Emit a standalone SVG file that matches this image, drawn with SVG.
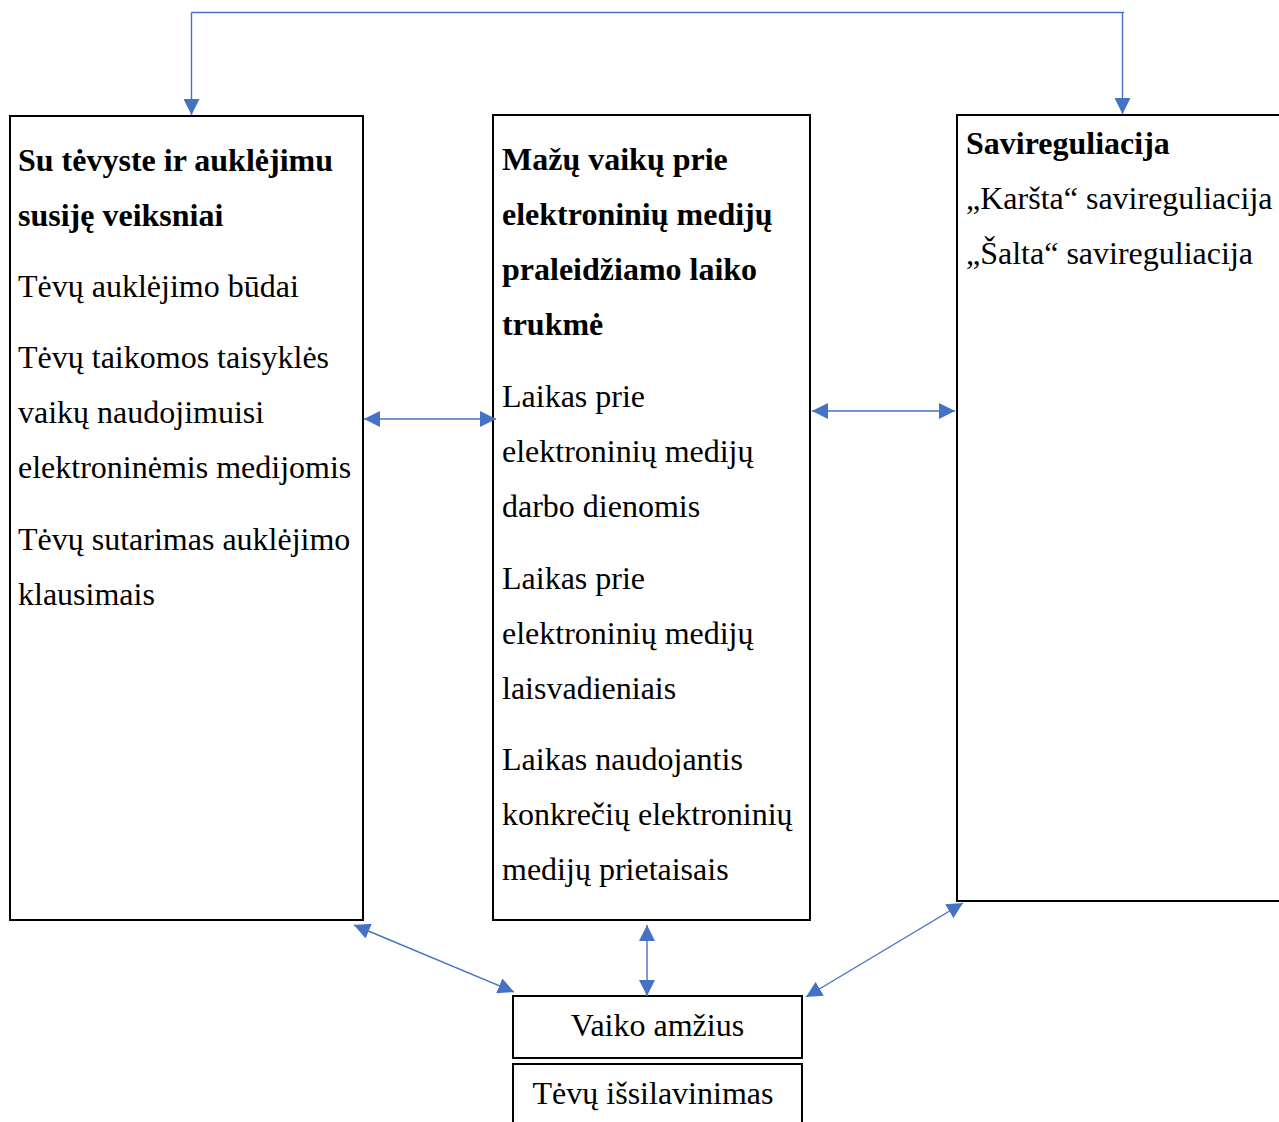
<svg xmlns="http://www.w3.org/2000/svg" width="1279" height="1122" viewBox="0 0 1279 1122">
<style>
.box{fill:#fff;stroke:#000;stroke-width:2}
.t{font-family:"Liberation Serif","Times New Roman",serif;font-size:32px;fill:#000}
.b{font-weight:bold}
.c{fill:none;stroke:#4472C4;stroke-width:1.4}
</style>
<defs>
<marker id="ah" markerUnits="userSpaceOnUse" markerWidth="16" markerHeight="16" viewBox="0 0 15 15" refX="15" refY="7.5" orient="auto-start-reverse">
<path d="M0,0 L15,7.5 L0,15 Z" fill="#4472C4"/>
</marker>
</defs>
<rect width="1279" height="1122" fill="#fff"/>
<g id="node-parenting">
<rect class="box" x="10" y="116" width="353" height="804"/>
<text class="t b" x="18" y="171">Su tėvyste ir auklėjimu</text>
<text class="t b" x="18" y="226">susiję veiksniai</text>
<text class="t" x="18" y="297">Tėvų auklėjimo būdai</text>
<text class="t" x="18" y="368">Tėvų taikomos taisyklės</text>
<text class="t" x="18" y="423">vaikų naudojimuisi</text>
<text class="t" x="18" y="478">elektroninėmis medijomis</text>
<text class="t" x="18" y="550">Tėvų sutarimas auklėjimo</text>
<text class="t" x="18" y="605">klausimais</text>
</g>
<g id="node-media-time">
<rect class="box" x="493" y="115" width="317" height="805"/>
<text class="t b" x="502" y="170">Mažų vaikų prie</text>
<text class="t b" x="502" y="225">elektroninių medijų</text>
<text class="t b" x="502" y="280">praleidžiamo laiko</text>
<text class="t b" x="502" y="335">trukmė</text>
<text class="t" x="502" y="407">Laikas prie</text>
<text class="t" x="502" y="462">elektroninių medijų</text>
<text class="t" x="502" y="517">darbo dienomis</text>
<text class="t" x="502" y="589">Laikas prie</text>
<text class="t" x="502" y="644">elektroninių medijų</text>
<text class="t" x="502" y="699">laisvadieniais</text>
<text class="t" x="502" y="770">Laikas naudojantis</text>
<text class="t" x="502" y="825">konkrečių elektroninių</text>
<text class="t" x="502" y="880">medijų prietaisais</text>
</g>
<g id="node-selfreg">
<rect class="box" x="957" y="115" width="340" height="786"/>
<text class="t b" x="966" y="154">Savireguliacija</text>
<text class="t" x="966" y="209">„Karšta“ savireguliacija</text>
<text class="t" x="966" y="264">„Šalta“ savireguliacija</text>
</g>
<g id="node-age">
<rect class="box" x="513" y="996" width="289" height="62"/>
<text class="t" x="657.5" y="1036" text-anchor="middle">Vaiko amžius</text>
</g>
<g id="node-education">
<rect class="box" x="513" y="1064" width="289" height="70"/>
<text class="t" x="653" y="1104" text-anchor="middle">Tėvų išsilavinimas</text>
</g>
<g id="connectors">
<path class="c" d="M191.5,12.5 H1124"/>
<path class="c" d="M191.5,12.5 V115" marker-end="url(#ah)"/>
<path class="c" d="M1122.5,12.5 V114" marker-end="url(#ah)"/>
<path class="c" d="M364,419 H496" marker-start="url(#ah)" marker-end="url(#ah)"/>
<path class="c" d="M812,411 H955" marker-start="url(#ah)" marker-end="url(#ah)"/>
<path class="c" d="M354,925 L514,992" marker-start="url(#ah)" marker-end="url(#ah)"/>
<path class="c" d="M647,925 V996" marker-start="url(#ah)" marker-end="url(#ah)"/>
<path class="c" d="M963,903 L806,997" marker-start="url(#ah)" marker-end="url(#ah)"/>
</g>
</svg>
